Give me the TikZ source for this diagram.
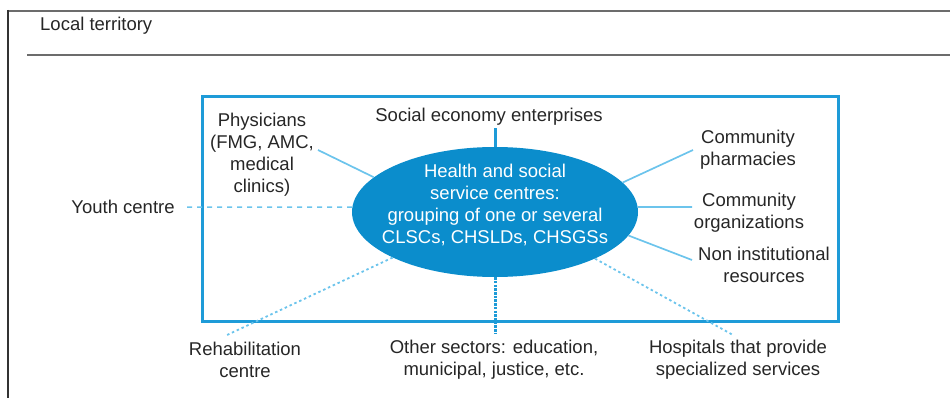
\documentclass[tikz,border=0pt]{standalone}
\usepackage{fontspec}
\setmainfont{Liberation Sans}
\usetikzlibrary{shapes.geometric}
\definecolor{frameblue}{HTML}{1E9BD8}
\definecolor{hubblue}{HTML}{0B8DCC}
\definecolor{linkblue}{HTML}{6CC4EC}
\definecolor{txt}{HTML}{262626}
\tikzset{
  lbl/.style={font=\fontsize{18.5}{22}\selectfont, text=txt, align=center, inner sep=0pt},
  solidlink/.style={draw=linkblue, line width=1.7pt},
  dotlink/.style={draw=linkblue, line width=1.8pt, dash pattern=on 2.5pt off 2.8pt},
  dashlink/.style={draw=linkblue, line width=1.5pt, dash pattern=on 5pt off 5pt},
}
\begin{document}
\begin{tikzpicture}[x=1pt,y=-1pt]
\useasboundingbox (0,0) rectangle (950,398);
% outer frame
\draw[draw=gray!85!black, line width=2pt] (8,11) -- (950,11);
\draw[draw=black!80, line width=2pt] (8,10) -- (8,398);
\draw[draw=gray!85!black, line width=2.2pt] (27,55) -- (950,55);
\node[lbl, anchor=west] (terr) at (40,26) {Local territory};
% blue box
\draw[draw=frameblue, line width=3pt] (202,97) rectangle (838,321);
% hub
\node[ellipse, fill=hubblue, minimum width=286pt, minimum height=130pt, inner sep=0pt] (hub) at (495,212) {};
\node[lbl, text=white] (hubtext) at (495,205) {Health and social\\service centres:\\grouping of one or several\\CLSCs, CHSLDs, CHSGSs};
% labels
\node[lbl] (phys) at (262,155) {Physicians\\(FMG, AMC,\\medical\\clinics)};
\node[lbl] (soc) at (489,117) {Social economy enterprises};
\node[lbl] (pharm) at (748,150) {Community\\pharmacies};
\node[lbl] (org) at (749,213) {Community\\organizations};
\node[lbl] (nonin) at (764,265) {Non institutional\\resources};
\node[lbl] (youth) at (123,207) {Youth centre};
\node[lbl] (rehab) at (245,360) {Rehabilitation\\centre};
\node[lbl] (other) at (494,360) {Other sectors: education,\\municipal, justice, etc.};
\node[lbl] (hosp) at (738,360) {Hospitals that provide\\specialized services};
% connector ends
\coordinate (cphys) at (318,150);
\coordinate (csoc) at (495,128);
\coordinate (cpharm) at (693,150);
\coordinate (corg) at (692,207);
\coordinate (cnonin) at (692,260);
\coordinate (chosp) at (733,335);
\coordinate (cother) at (495,334);
\coordinate (crehab) at (227,335);
\coordinate (cyouth) at (185,207);
% connectors
\draw[solidlink] (hub.164) -- (cphys);
\draw[draw=frameblue, line width=3pt] (hub.north) -- (csoc);
\draw[solidlink] (hub.13) -- (cpharm);
\draw[solidlink] (hub.2) -- (corg);
\draw[solidlink] (hub.-10) -- (cnonin);
\draw[dotlink] (hub.-25) -- (chosp);
\draw[draw=frameblue, line width=3pt, dash pattern=on 2.5pt off 1.2pt] (hub.south) -- (cother);
\draw[dotlink] (hub.204) -- (crehab);
\draw[dashlink] (hub.178) -- (cyouth);
\end{tikzpicture}
\end{document}
